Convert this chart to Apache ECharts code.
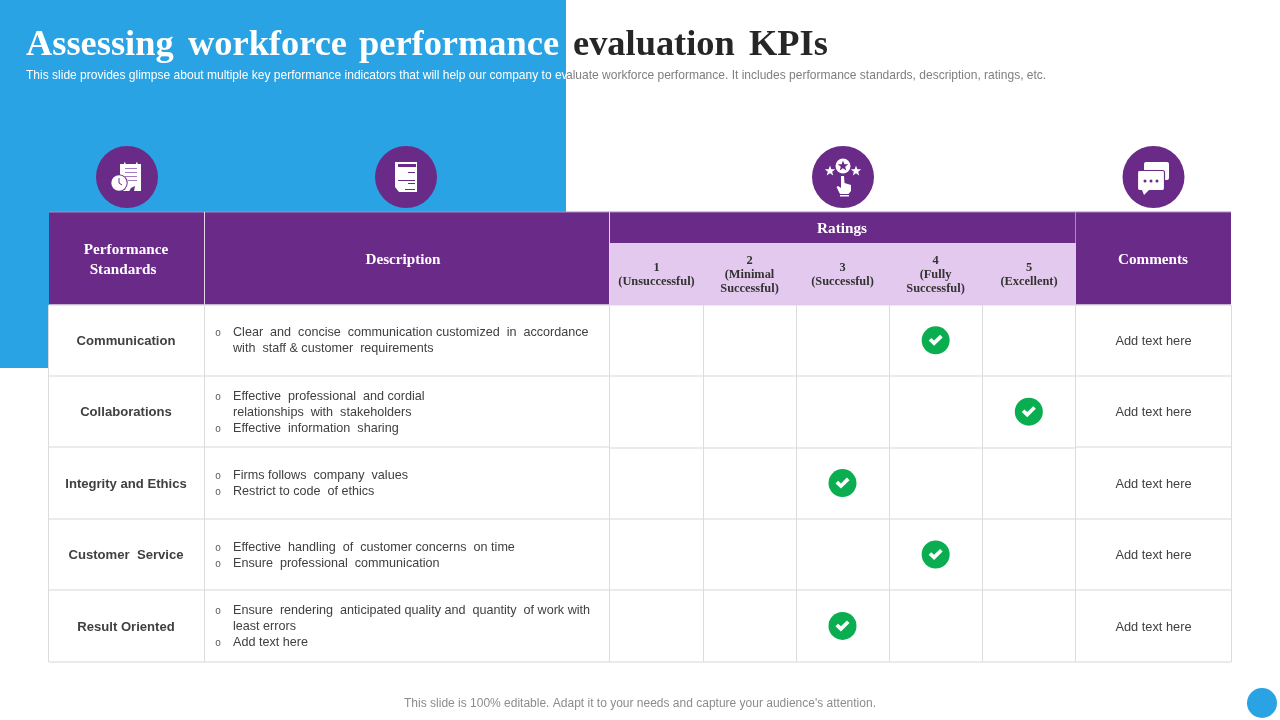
<!DOCTYPE html>
<html><head><meta charset="utf-8">
<style>html,body{margin:0;padding:0;background:#fff}#c{width:1280px;height:720px}</style>
<script src="https://cdn.jsdelivr.net/npm/echarts@6/dist/echarts.min.js"></script>
</head><body><div id="c"></div>
<script>
const titleWords = ['Assessing', 'workforce', 'performance', 'evaluation', 'KPIs'];
const subWhite = 'This slide provides glimpse about multiple key performance indicators that will help our company to ev';
const subDark = 'aluate workforce performance. It includes performance standards, description, ratings, etc.';
const footer = "This slide is 100% editable. Adapt it to your needs and capture your audience's attention.";
const standards = ['Communication', 'Collaborations', 'Integrity and Ethics', 'Customer  Service', 'Result Oriented'];
const descriptions = [
  [['o', 'Clear  and  concise  communication customized  in  accordance'], ['', 'with  staff & customer  requirements']],
  [['o', 'Effective  professional  and cordial'], ['', 'relationships  with  stakeholders'], ['o', 'Effective  information  sharing']],
  [['o', 'Firms follows  company  values'], ['o', 'Restrict to code  of ethics']],
  [['o', 'Effective  handling  of  customer concerns  on time'], ['o', 'Ensure  professional  communication']],
  [['o', 'Ensure  rendering  anticipated quality and  quantity  of work with'], ['', 'least errors'], ['o', 'Add text here']]
];
const ratingLabels = [['1', '(Unsuccessful)'], ['2', '(Minimal', 'Successful)'], ['3', '(Successful)'], ['4', '(Fully', 'Successful)'], ['5', '(Excellent)']];
const ratingCategories = ['1', '2', '3', '4', '5'];
const ratings = [4, 5, 3, 4, 3];
const comment = 'Add text here';

const PURPLE = '#6a2a87', LIGHT = '#e3c9ee', BLUE = '#29a3e3', LINE = '#dcdcdc';
const colX = [49, 205, 610, 703, 796, 889, 982, 1076, 1231];
const rowY = [305, 376, 447, 519, 590, 662];
const SERIF = '"Liberation Serif"', SANS = '"Liberation Sans"';
const g = [];
const rect = (x, y, w, h, fill, z = 1) => g.push({ type: 'rect', shape: { x, y, width: w, height: h }, style: { fill }, z, silent: true });
const line = (x1, y1, x2, y2, stroke, lineWidth = 1, z = 3) => g.push({ type: 'line', shape: { x1, y1, x2, y2 }, style: { stroke, lineWidth }, z, silent: true });
const circle = (cx, cy, r, fill, z = 5) => g.push({ type: 'circle', shape: { cx, cy, r }, style: { fill }, z, silent: true });
const poly = (points, fill, z = 6) => g.push({ type: 'polygon', shape: { points }, style: { fill }, z, silent: true });
const text = (x, y, t, o = {}) => g.push({ type: 'text', x, y, z: 8, silent: true, style: Object.assign({ text: t, align: 'center', verticalAlign: 'middle', fontFamily: SANS, fontSize: 12, fill: '#404040' }, o) });
const star = (cx, cy, R, fill, z = 7) => { const p = []; for (let i = 0; i < 10; i++) { const r = i % 2 ? R * 0.42 : R, a = -Math.PI / 2 + i * Math.PI / 5; p.push([cx + r * Math.cos(a), cy + r * Math.sin(a)]); } poly(p, fill, z); };

// backdrop
rect(0, 0, 566, 368, BLUE, 0);
circle(1262, 703, 15, BLUE, 1);
// titles
const titleX = [26, 188, 359, 573, 749];
titleWords.forEach((w, i) => text(titleX[i], 46, w, { align: 'left', fontFamily: SERIF, fontWeight: 'bold', fontSize: 36.4, fill: i < 3 ? '#ffffff' : '#262626' }));
text(26, 75.5, subWhite, { align: 'left', fontSize: 12.02, fill: '#ffffff' });
text(566, 75.5, subDark, { align: 'left', fontSize: 12.02, fill: '#7f7f7f' });
text(640, 704, footer, { fontSize: 12, fill: '#8c8c8c' });

// table body + header
rect(49, 305, 561, 357, '#ffffff', 1);
rect(49, 212, 1182, 93, PURPLE, 2);
rect(610, 243, 466, 62, LIGHT, 3);
line(49, 212, 1231, 212, '#a68cc4', 1, 4);
line(204.5, 212, 204.5, 305, '#e3d5ec', 1, 4);
line(609.5, 212, 609.5, 305, '#e3d5ec', 1, 4);
line(1075.5, 212, 1075.5, 243, '#a68cc4', 1, 4);
const headStyle = { fontFamily: SERIF, fontWeight: 'bold', fontSize: 15.2, fill: '#fff' };
text(126, 250, 'Performance', headStyle);
text(123, 270, 'Standards', headStyle);
text(403, 260, 'Description', headStyle);
text(842, 229, 'Ratings', headStyle);
text(1153, 260, 'Comments', headStyle);
ratingLabels.forEach((ls, i) => {
  const cx = (colX[i + 2] + colX[i + 3]) / 2;
  const top = ls.length === 3 ? 261 : 268;
  ls.forEach((t, j) => text(cx, top + j * 14, t, { fontFamily: SERIF, fontWeight: 'bold', fontSize: 12.4, fill: '#333333' }));
});

// rows outside the rating columns
rowY.forEach(y => {
  line(49, y, 610, y, '#e4e4e4', 1.5);
  line(1076, y, 1231, y, '#e4e4e4', 1.5);
});
[48, 204, 609, 1075, 1231].forEach(x => line(x + 0.5, 305, x + 0.5, 662, LINE, 1));
const descTop = [333, 397, 476, 548, 611];
standards.forEach((s, i) => {
  const cy = (rowY[i] + rowY[i + 1]) / 2 + 1;
  text(126, cy, s, { fontWeight: 'bold', fontSize: 13.1, fill: '#404040' });
  text(1153.5, cy, comment, { fontSize: 12.8, fill: '#404040' });
  descriptions[i].forEach((d, j) => {
    const y = descTop[i] + j * 16;
    if (d[0]) text(218, y, d[0], { fontSize: 10, fill: '#595959' });
    text(233, y, d[1], { align: 'left', fontSize: 12.6, fill: '#404040' });
  });
});

// icon discs
[[127, 177], [406, 177], [843, 177], [1153.5, 177]].forEach(c => circle(c[0], c[1], 31, PURPLE, 5));
// icon 1: clipboard + stopwatch
rect(120, 164, 21, 27, '#fff', 6);
[[125, 137, 168.5], [125, 137, 172.5], [125, 137, 176.5], [128, 137, 180.5]].forEach(a => line(a[0], a[2], a[1], a[2], '#a678bd', 1, 7));
rect(124, 162.5, 1.5, 3, '#fff', 7); rect(136, 162.5, 1.5, 3, '#fff', 7);
poly([[129, 191.5], [131, 188], [135, 186], [134, 191.5]], PURPLE, 7);
circle(119, 183, 8.7, PURPLE, 7);
circle(119, 183, 7.7, '#fff', 7.5);
line(119, 178, 119, 183, PURPLE, 1, 8);
line(119, 183, 122, 185, PURPLE, 1, 8);
// icon 2: document
poly([[395, 162], [417, 162], [417, 192], [399, 192], [395, 187]], '#fff', 6);
rect(398, 164, 18, 3, PURPLE, 7);
[[408, 415, 172.5], [398, 415, 180.5], [408, 415, 183.5], [405, 415, 189.5]].forEach(a => line(a[0], a[2], a[1], a[2], PURPLE, 1, 7));
// icon 3: stars and pointing hand
star(830, 171, 5.5, '#fff'); star(856, 171, 5.5, '#fff');
circle(843, 166, 7.5, '#fff', 6); star(843, 166, 5.5, PURPLE);
poly([[841, 176], [844, 176], [844.5, 183], [851, 185], [851, 191], [848.5, 194], [840, 194], [836.5, 187], [838, 186], [841, 188]], '#fff', 6);
rect(840, 195, 9, 1.5, '#fff', 6);
// icon 4: chat bubbles
g.push({ type: 'rect', shape: { x: 1144, y: 162, width: 25, height: 18, r: 2 }, style: { fill: '#fff' }, z: 6, silent: true });
g.push({ type: 'rect', shape: { x: 1137.5, y: 170.5, width: 27, height: 20, r: 2 }, style: { fill: '#fff', stroke: PURPLE, lineWidth: 1.2 }, z: 7, silent: true });
poly([[1142, 190], [1149, 190], [1144, 195]], '#fff', 7);
[1145, 1151, 1157].forEach(x => circle(x, 181, 1.5, PURPLE, 8));

const checkPath = 'path://M2 12 L6 8 L10.5 12 L20 3 L24 7 L10.5 20 Z';
const pts = ratings.map((r, i) => [String(r), standards[i]]);
const chart = echarts.init(document.getElementById('c'));
chart.setOption({
  animation: false,
  backgroundColor: '#ffffff',
  grid: { left: 609.6, right: 204.6, top: 304.6, bottom: 58.4, containLabel: false },
  xAxis: { type: 'category', data: ratingCategories, axisLine: { show: false }, axisTick: { show: false }, axisLabel: { show: false }, splitLine: { show: true, lineStyle: { color: LINE, width: 1 } } },
  yAxis: { type: 'category', inverse: true, data: standards, axisLine: { show: false }, axisTick: { show: false }, axisLabel: { show: false }, splitLine: { show: true, lineStyle: { color: '#e4e4e4', width: 1.5 } } },
  series: [
    { type: 'scatter', data: pts, symbol: 'circle', symbolSize: 28, itemStyle: { color: '#0aae50', opacity: 1 }, z: 3 },
    { type: 'scatter', data: pts, symbol: checkPath, symbolSize: [14, 11], itemStyle: { color: '#ffffff', opacity: 1 }, z: 4 }
  ],
  graphic: { elements: g }
});
</script></body></html>
